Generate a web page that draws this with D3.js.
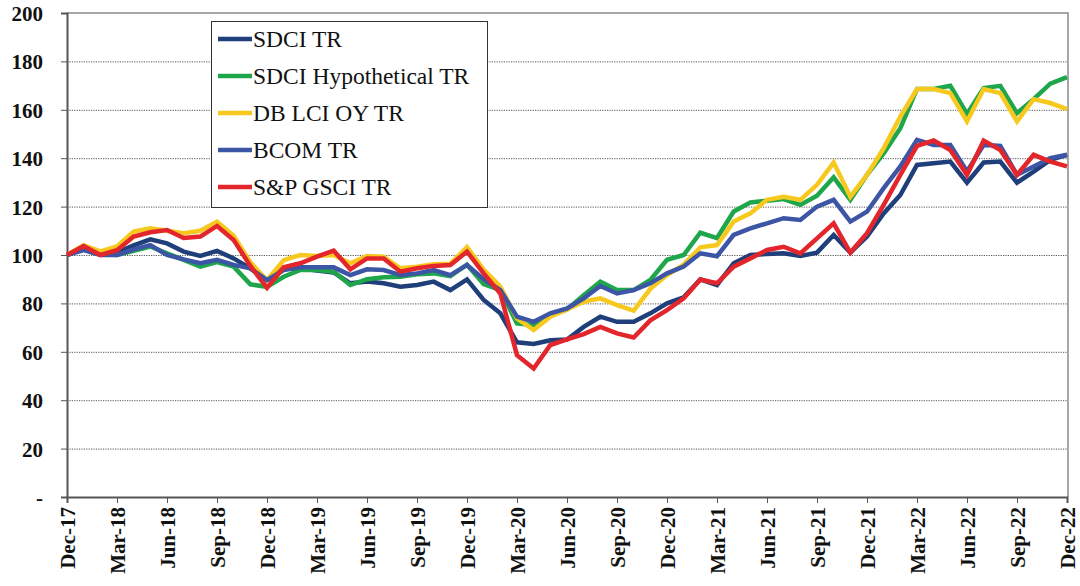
<!DOCTYPE html>
<html>
  <head>
    <meta charset="utf-8">
    <style>
    body { margin: 0; background: #fff; }
    #chart-area svg { display: block; }
    .axis text { font-family: "Liberation Serif", "Times New Roman", serif; font-weight: bold; fill: #111; }
    .legend text { font-family: "Liberation Serif", "Times New Roman", serif; fill: #111; }
    </style>
  </head>
  <body>
    <div id="chart-area"></div>

    <script src="https://d3js.org/d3.v7.min.js"></script>
    <script>
      // Data (monthly, index level)
      const months = [
        "Dec-17","Jan-18","Feb-18","Mar-18","Apr-18","May-18","Jun-18","Jul-18","Aug-18","Sep-18","Oct-18","Nov-18",
        "Dec-18","Jan-19","Feb-19","Mar-19","Apr-19","May-19","Jun-19","Jul-19","Aug-19","Sep-19","Oct-19","Nov-19",
        "Dec-19","Jan-20","Feb-20","Mar-20","Apr-20","May-20","Jun-20","Jul-20","Aug-20","Sep-20","Oct-20","Nov-20",
        "Dec-20","Jan-21","Feb-21","Mar-21","Apr-21","May-21","Jun-21","Jul-21","Aug-21","Sep-21","Oct-21","Nov-21",
        "Dec-21","Jan-22","Feb-22","Mar-22","Apr-22","May-22","Jun-22","Jul-22","Aug-22","Sep-22","Oct-22","Nov-22",
        "Dec-22"
      ];

      const xTickLabels = ["Dec-17","Mar-18","Jun-18","Sep-18","Dec-18","Mar-19","Jun-19","Sep-19","Dec-19",
        "Mar-20","Jun-20","Sep-20","Dec-20","Mar-21","Jun-21","Sep-21","Dec-21","Mar-22","Jun-22","Sep-22","Dec-22"];

      const yTicks = [0, 20, 40, 60, 80, 100, 120, 140, 160, 180, 200];

      const sdciTR = [100,102.8,100.4,101,104,106.5,104.8,101.4,99.6,101.7,98.6,94.5,
        89.5,94.5,94.5,93.6,92.8,88.3,89,88.3,86.9,87.6,89,85.5,
        89.9,81.4,75.9,63.9,63.2,64.8,65.1,70.3,74.5,72.4,72.4,75.9,
        80,82.5,89.9,87.6,96.6,100,100.4,100.7,99.6,101,108.3,101,
        107.6,117.2,124.8,137.2,137.9,138.6,129.9,138.2,138.6,129.9,134.5,139.3,
        141.4];

      const sdciHypo = [100,102.8,100.4,100,101.7,103.5,100.7,98,95.2,97.1,95.2,87.9,
        86.8,91,93.8,93.8,93.1,87.6,90,90.8,91,92,92.4,91.3,
        96,88,85.5,71.7,71,75.2,77.5,83.4,89,85.5,85.5,89.7,
        98,100,109.2,107,118,121.7,122.4,123.1,120.7,124.5,132.1,122.8,
        133.1,142,152.4,168.6,168.6,169.9,158.3,169,169.9,158.6,164.4,170.8,
        173.5];

      const dbLci = [100,104,101.5,103.5,109.7,111,110,109,110,113.8,108,97,
        89.6,97.9,100,99.6,100,96.6,99.6,99.3,94.5,95.2,96.2,96.4,
        103.2,94,86.9,73.8,69,74.5,77.5,80.7,82.1,79.3,77,86,
        91.7,96,103.2,104.1,113.8,117.2,122.8,124.1,122.8,129,138.2,124.1,
        133.1,144.1,157.2,168.6,168.6,166.9,155.2,168.6,166.9,155.2,164.4,162.8,
        160.3];

      const bcom = [100,102,100,100,102.3,104.1,100,98.2,96.6,98,95.9,94.5,
        89.6,93.8,94.9,94.9,94.9,91.7,94.1,93.8,91.7,92.4,93.8,91.7,
        95.9,90,85.5,74.5,72.4,75.9,77.9,82.1,87.2,84.1,85.5,88.3,
        92.4,95.2,100.7,99.5,108.3,111,113.1,115.2,114.5,120,122.8,113.8,
        117.9,127.6,136.6,147.6,145.5,145.5,134.5,145.5,145.1,133.1,136.6,140,
        141.4];

      const gsci = [100,103.7,100,102,107.6,109.4,110.3,107,107.6,112,106.2,95.5,
        86.4,94.9,96.6,99.3,101.8,94.1,98.6,98.6,93.1,94.5,95.5,95.9,
        101.4,92.4,84.1,58.6,53.1,62.8,65.1,67.3,70.3,67.6,65.9,73,
        77.2,82.1,89.9,88.3,95.2,98.6,102.1,103.4,100.7,106.9,113.1,101,
        109,120.7,133.1,145.1,147.3,143.4,133.1,147.3,143.4,133.1,141.4,138.6,
        136.6];

      const seriesNames = ["SDCI TR", "SDCI Hypothetical TR", "DB LCI OY TR", "BCOM TR", "S&P GSCI TR"];
      const seriesValues = [sdciTR, sdciHypo, dbLci, bcom, gsci];
      const seriesColors = ["#1f3f7a", "#1fa64a", "#f7c91e", "#3c55a5", "#e3262b"];

      // Layout
      const width = 1080;
      const height = 586;
      const margin = { left: 67, right: 1067, top: 13, bottom: 497 };
      const serif = '"Liberation Serif", "Times New Roman", serif';

      const svg = d3.select("#chart-area")
        .append("svg")
          .attr("width", width)
          .attr("height", height);

      const x = d3.scalePoint()
        .domain(months)
        .range([margin.left, margin.right]);

      const y = d3.scaleLinear()
        .domain([0, 200])
        .range([margin.bottom, margin.top]);

      // Gridlines
      svg.append("g")
        .attr("transform", `translate(${margin.left},0)`)
        .call(d3.axisLeft(y).tickValues(yTicks.filter(d => d > 0 && d < 200))
          .tickSize(-(margin.right - margin.left)).tickFormat(""))
        .call(g => g.select(".domain").remove())
        .call(g => g.selectAll("line")
          .attr("stroke", "#555")
          .attr("stroke-width", 1)
          .attr("stroke-dasharray", "1.2,1.2"));

      // Frame (top & right)
      svg.append("path")
        .attr("d", `M${margin.left},${margin.top}H${margin.right + 1}V${margin.bottom}`)
        .attr("fill", "none")
        .attr("stroke", "#8a8a8a")
        .attr("stroke-width", 1.5);

      // Y axis
      svg.append("g")
        .attr("class", "axis")
        .attr("font-family", serif)
        .attr("transform", `translate(${margin.left},0)`)
        .call(d3.axisLeft(y).tickValues(yTicks).tickSize(6).tickPadding(18)
          .tickFormat(d => d === 0 ? "-" : d))
        .call(g => g.select(".domain").attr("stroke", "#555").attr("stroke-width", 2))
        .call(g => g.selectAll(".tick line").attr("stroke", "#555"))
        .call(g => g.selectAll("text").style("font-size", "21px").attr("dy", "0.36em"));

      // X axis
      svg.append("g")
        .attr("class", "axis")
        .attr("font-family", serif)
        .attr("transform", `translate(0,${margin.bottom})`)
        .call(d3.axisBottom(x).tickValues(xTickLabels).tickSize(6))
        .call(g => g.select(".domain").attr("stroke", "#555").attr("stroke-width", 2))
        .call(g => g.selectAll(".tick line").attr("stroke", "#555"))
        .call(g => g.selectAll("text")
          .style("font-size", "21px")
          .attr("text-anchor", "end")
          .attr("transform", "rotate(-90)")
          .attr("x", -10)
          .attr("y", 0)
          .attr("dy", "0.35em"));

      // Lines
      const line = d3.line()
        .x((d, i) => x(months[i]))
        .y(d => y(d));

      seriesValues.forEach((vals, k) => {
        svg.append("path")
          .datum(vals)
          .attr("fill", "none")
          .attr("stroke", seriesColors[k])
          .attr("stroke-width", 4.5)
          .attr("stroke-linejoin", "miter")
          .attr("d", line);
      });

      // Legend
      const legend = svg.append("g").attr("class", "legend");
      legend.append("rect")
        .attr("x", 211.5).attr("y", 21.5)
        .attr("width", 276).attr("height", 186)
        .attr("fill", "#fff")
        .attr("stroke", "#333")
        .attr("stroke-width", 1);

      seriesNames.forEach((name, k) => {
        const cy = 39 + k * 37;
        legend.append("line")
          .attr("x1", 218).attr("x2", 252)
          .attr("y1", cy).attr("y2", cy)
          .attr("stroke", seriesColors[k])
          .attr("stroke-width", 4.5);
        legend.append("text")
          .attr("x", 253)
          .attr("y", cy + 8)
          .attr("font-family", serif)
          .style("font-size", "23.5px")
          .text(name);
      });
    </script>
  </body>
</html>
